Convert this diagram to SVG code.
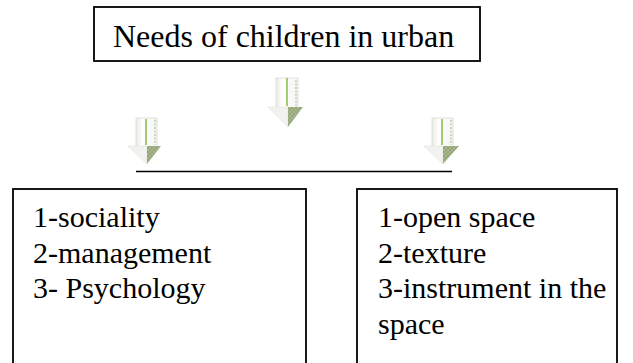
<svg xmlns="http://www.w3.org/2000/svg" width="633" height="363" viewBox="0 0 633 363">
<defs>
<style>
.box{fill:#ffffff;stroke:#000000;stroke-width:1.8}
.t{font-family:"Liberation Serif","Times New Roman",serif;font-size:30px;fill:#000000}
.title{font-size:32px}
.shaft{fill:url(#sg);stroke:#d8dcd0;stroke-width:0.8}
.headL{fill:#f2f3ef;stroke:#e0e3da;stroke-width:0.6}
.headR{fill:url(#hatch)}
.mid{stroke:#8cc152;stroke-width:1.6}
.dot{stroke:#a7b596;stroke-width:1;stroke-dasharray:2 1.5}
</style>
<linearGradient id="sg" x1="0" y1="0" x2="1" y2="0">
<stop offset="0" stop-color="#e9ebe5"/>
<stop offset="0.3" stop-color="#ffffff"/>
<stop offset="1" stop-color="#f4f5f1"/>
</linearGradient>
<pattern id="hatch" width="4" height="4" patternUnits="userSpaceOnUse">
<rect width="4" height="4" fill="#aab98f"/>
<path d="M0 4L4 0M0 0L4 4" stroke="#7f9466" stroke-width="0.6"/>
</pattern>
</defs>
<g id="root-node">
<rect class="box" x="94" y="7" width="386" height="54"/>
<text class="t title" x="113" y="47">Needs of children in urban</text>
</g>
<g id="connectors">
<g id="arrow-center">
<rect class="shaft" x="276" y="78" width="22" height="30"/>
<polygon class="headL" points="268,107 288,107 288,127"/>
<polygon class="headR" points="288,107 303,107 288,127"/>
<line class="mid" x1="287" y1="78" x2="287" y2="106"/>
<line class="dot" x1="296" y1="80" x2="296" y2="106"/>
</g>
<g id="arrow-left">
<rect class="shaft" x="136" y="118" width="21" height="29"/>
<polygon class="headL" points="128,146 147,146 147,164"/>
<polygon class="headR" points="147,146 161,146 147,164"/>
<line class="mid" x1="146" y1="119" x2="146" y2="145"/>
<line class="dot" x1="155" y1="120" x2="155" y2="145"/>
</g>
<g id="arrow-right">
<rect class="shaft" x="432" y="118" width="21" height="29"/>
<polygon class="headL" points="424,146 443,146 443,164"/>
<polygon class="headR" points="443,146 459,146 443,164"/>
<line class="mid" x1="442" y1="119" x2="442" y2="145"/>
<line class="dot" x1="451" y1="120" x2="451" y2="145"/>
</g>
<line x1="136" y1="171.5" x2="452" y2="171.5" stroke="#000" stroke-width="1.6"/>
</g>
<g id="social-node">
<rect class="box" x="13" y="189" width="293" height="180"/>
<text class="t" x="33" y="227">1-sociality</text>
<text class="t" x="33" y="263">2-management</text>
<text class="t" x="33" y="298">3- Psychology</text>
</g>
<g id="space-node">
<rect class="box" x="357" y="189" width="260" height="180"/>
<text class="t" x="378" y="227">1-open space</text>
<text class="t" x="378" y="263">2-texture</text>
<text class="t" x="378" y="298">3-instrument in the</text>
<text class="t" x="378" y="334">space</text>
</g>
</svg>
